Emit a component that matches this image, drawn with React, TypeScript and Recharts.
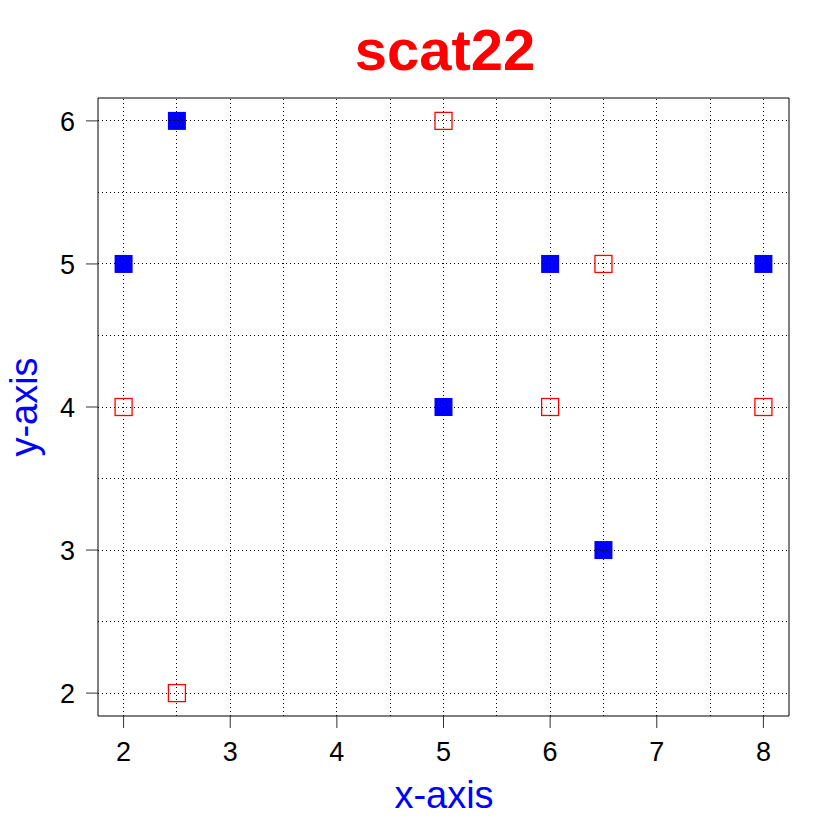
import React from 'react';
import { ScatterChart, Scatter, XAxis, YAxis, ReferenceLine, ReferenceArea } from 'recharts';

const xTicks = [2, 3, 4, 5, 6, 7, 8];
const yTicks = [2, 3, 4, 5, 6];
const gridX = [2, 2.5, 3, 3.5, 4, 4.5, 5, 5.5, 6, 6.5, 7, 7.5, 8];
const gridY = [2, 2.5, 3, 3.5, 4, 4.5, 5, 5.5, 6];

const filledX = [2, 2.5, 5, 6, 6.5, 8];
const filledY = [5, 6, 4, 5, 3, 5];
const openX = [2, 2.5, 5, 6, 6.5, 8];
const openY = [4, 2, 6, 4, 5, 4];

const filledData = filledX.map((x, i) => ({ x, y: filledY[i] }));
const openData = openX.map((x, i) => ({ x, y: openY[i] }));

const X_DOMAIN: [number, number] = [1.76, 8.24];
const Y_DOMAIN: [number, number] = [1.84, 6.16];
const FONT = "'Liberation Sans', Arial, sans-serif";

const FilledSquare = (props: any) => {
  const { cx, cy } = props;
  return <rect x={cx - 9} y={cy - 9} width={18} height={18} fill="#0000ff" />;
};
const OpenSquare = (props: any) => {
  const { cx, cy } = props;
  return <rect x={cx - 8.5} y={cy - 8.5} width={17} height={17} fill="none" stroke="#ff0000" strokeWidth={1.3} />;
};

const XTick = (props: any) => {
  const { x, y, payload } = props;
  return (
    <text x={x} y={y + 19} textAnchor="middle" fill="#000" style={{ fontSize: '27px', fontFamily: FONT }}>
      {payload.value}
    </text>
  );
};
const YTick = (props: any) => {
  const { x, y, payload } = props;
  return (
    <text x={x} y={y + 10} textAnchor="end" fill="#000" style={{ fontSize: '27px', fontFamily: FONT }}>
      {payload.value}
    </text>
  );
};

export default function App() {
  return (
    <div style={{ position: 'absolute', left: 0, top: 0, width: 840, height: 840, background: '#fff' }}>
      <ScatterChart width={840} height={840} margin={{ top: 98, right: 51, bottom: 0, left: 0 }}>
        <XAxis
          type="number"
          dataKey="x"
          domain={X_DOMAIN}
          ticks={xTicks}
          allowDataOverflow
          axisLine={false}
          tickSize={12}
          tickMargin={14}
          height={124}
          tickLine={{ stroke: '#333', strokeWidth: 1 }}
          tick={<XTick />}
        />
        <YAxis
          type="number"
          dataKey="y"
          domain={Y_DOMAIN}
          ticks={yTicks}
          allowDataOverflow
          axisLine={false}
          tickSize={12}
          tickMargin={11}
          width={98}
          tickLine={{ stroke: '#333', strokeWidth: 1 }}
          tick={<YTick />}
        />
        <Scatter data={filledData} shape={FilledSquare} isAnimationActive={false} />
        <Scatter data={openData} shape={OpenSquare} isAnimationActive={false} />
        {gridX.map((v) => (
          <ReferenceLine key={'gx' + v} x={v} stroke="#000" strokeWidth={1} strokeDasharray="1 3" shapeRendering="crispEdges" zIndex={1000} />
        ))}
        {gridY.map((v) => (
          <ReferenceLine key={'gy' + v} y={v} stroke="#000" strokeWidth={1} strokeDasharray="1 3" shapeRendering="crispEdges" zIndex={1000} />
        ))}
        <ReferenceArea x1={X_DOMAIN[0]} x2={X_DOMAIN[1]} y1={Y_DOMAIN[0]} y2={Y_DOMAIN[1]} fill="none" fillOpacity={0} stroke="#000" strokeWidth={1} strokeOpacity={1} />
      </ScatterChart>
      <svg width={840} height={840} style={{ position: 'absolute', left: 0, top: 0, pointerEvents: 'none' }}>
        <text x={445} y={70} textAnchor="middle" fill="#ff0000" fontSize={58} fontWeight="bold" fontFamily={FONT}>scat22</text>
        <text x={444} y={808} textAnchor="middle" fill="#0000ff" fontSize={38} fontFamily={FONT}>x-axis</text>
        <text x={0} y={0} transform="translate(37,407) rotate(-90)" textAnchor="middle" fill="#0000ff" fontSize={38} fontFamily={FONT}>y-axis</text>
      </svg>
    </div>
  );
}
